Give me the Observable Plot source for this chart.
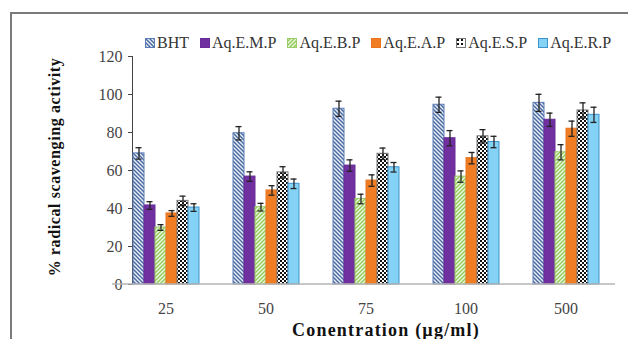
<!DOCTYPE html>
<html>
<head>
<meta charset="utf-8">
<script src="https://cdn.jsdelivr.net/npm/d3@7"></script>
<script src="https://cdn.jsdelivr.net/npm/@observablehq/plot@0.6"></script>
<style>
  html, body { margin: 0; padding: 0; background: #fff; }
  #wrap { position: relative; width: 628px; height: 339px; overflow: hidden; font-family: "Liberation Serif", "Times New Roman", serif; }
  #frame { position: absolute; left: 10px; top: 12px; width: 640px; height: 400px; border-top: 2px solid #7a7a7a; border-left: 2px solid #7a7a7a; z-index: 5; pointer-events: none; }
  #legend { position: absolute; left: 145px; top: 34px; height: 18px; display: flex; align-items: center; font-size: 16px; color: #333; white-space: nowrap; }
  #legend .item { display: flex; align-items: center; margin-right: 11px; }
  #legend svg { margin-right: 2px; }
  #chart { position: absolute; left: 0; top: 52px; }
  #xtitle { position: absolute; top: 320px; left: 0; width: 772px; text-align: center; font-weight: bold; font-size: 18px; letter-spacing: 1.2px; color: #111; }
  #ytitle { position: absolute; left: 55px; top: 167px; transform: translate(-50%, -50%) rotate(-90deg); white-space: nowrap; font-weight: bold; font-size: 16px; letter-spacing: 0.6px; color: #111; }
  #chart svg g[aria-label^="y-axis"] text, #chart svg g[aria-label^="fx-axis"] text { fill: #444; }
</style>
</head>
<body>
<div id="wrap">
  <div id="frame"></div>
  <div id="legend"></div>
  <div id="chart"></div>
  <div id="ytitle">% radical scavenging activity</div>
  <div id="xtitle">Conentration (µg/ml)</div>
</div>
<script>
// ---- data ----
const concentrations = ["25", "50", "75", "100", "500"];
const seriesNames = ["BHT", "Aq.E.M.P", "Aq.E.B.P", "Aq.E.A.P", "Aq.E.S.P", "Aq.E.R.P"];
const bhtValues = [69, 79.6, 92.5, 94.6, 95.6];
const empValues = [41.6, 56.8, 62.6, 77, 86.7];
const ebpValues = [30, 40.7, 45, 56.8, 69.6];
const eapValues = [37.4, 49.5, 54.7, 66.5, 82];
const espValues = [44, 59, 68.8, 78, 91.6];
const erpValues = [40.5, 53, 61.7, 75, 89.3];
const bhtErrors = [3, 3.5, 4, 4, 4.5];
const empErrors = [2, 2.5, 3, 4, 3.5];
const ebpErrors = [1.5, 2, 2.5, 3, 4];
const eapErrors = [1.5, 2.5, 3, 3, 4];
const espErrors = [2.5, 3, 3, 3.5, 4];
const erpErrors = [2, 2.5, 2.5, 3, 4];
const yTicks = [0, 20, 40, 60, 80, 100, 120];

const valueLists = [bhtValues, empValues, ebpValues, eapValues, espValues, erpValues];
const errorLists = [bhtErrors, empErrors, ebpErrors, eapErrors, espErrors, erpErrors];

// styles per series (fill pattern / colour and outline)
const fills = ["url(#p-bht)", "#7030a0", "url(#p-ebp)", "#f07d23", "url(#p-esp)", "#84d3f6"];
const strokes = ["#5a7cb6", "#6a2c98", "#9ccc6a", "#e87420", "#777777", "#3d93cc"];

const rows = [];
seriesNames.forEach((s, i) => {
  concentrations.forEach((c, j) => {
    rows.push({series: s, conc: c, value: valueLists[i][j], err: errorLists[i][j]});
  });
});

const marks = [];
seriesNames.forEach((s, i) => {
  marks.push(Plot.barY(rows.filter(d => d.series === s), {
    fx: "conc", x: "series", y: "value",
    fill: fills[i], stroke: strokes[i], strokeWidth: 1
  }));
});
marks.push(Plot.ruleX(rows, {fx: "conc", x: "series", y1: d => d.value - d.err, y2: d => d.value + d.err, stroke: "#222", strokeWidth: 1.3}));
marks.push(Plot.tickY(rows, {fx: "conc", x: "series", y: d => d.value - d.err, stroke: "#222", strokeWidth: 1.3, insetLeft: 2.5, insetRight: 2.5}));
marks.push(Plot.tickY(rows, {fx: "conc", x: "series", y: d => d.value + d.err, stroke: "#222", strokeWidth: 1.3, insetLeft: 2.5, insetRight: 2.5}));

const chart = Plot.plot({
  width: 628,
  height: 268,
  marginTop: 4,
  marginBottom: 36,
  marginLeft: 112,
  marginRight: 10,
  style: {fontFamily: "Liberation Serif, Times New Roman, serif", fontSize: "16px", color: "#444", background: "transparent", overflow: "visible"},
  fx: {domain: concentrations, paddingInner: 0.33, paddingOuter: 0.195, tickSize: 0, tickPadding: 18, label: null},
  x: {domain: seriesNames, padding: 0, axis: null},
  y: {domain: [0, 120], ticks: yTicks, tickSize: 4, tickPadding: 6, line: true, label: null},
  marks
});

const svg = chart.tagName.toLowerCase() === "svg" ? chart : chart.querySelector("svg");
const defs = d3.select(svg).insert("defs", ":first-child");
// BHT: blue backslash stripes
const p1 = defs.append("pattern").attr("id", "p-bht").attr("patternUnits", "userSpaceOnUse").attr("width", 4).attr("height", 4);
p1.append("rect").attr("width", 4).attr("height", 4).attr("fill", "#e9eef7");
p1.append("path").attr("d", "M-1,-1L5,5M3,-1L5,1M-1,3L1,5").attr("stroke", "#48699f").attr("stroke-width", 1.4);
// EBP: green slash stripes
const p2 = defs.append("pattern").attr("id", "p-ebp").attr("patternUnits", "userSpaceOnUse").attr("width", 4).attr("height", 4);
p2.append("rect").attr("width", 4).attr("height", 4).attr("fill", "#eef7e2");
p2.append("path").attr("d", "M-1,5L5,-1M-1,1L1,-1M3,5L5,3").attr("stroke", "#8fcb55").attr("stroke-width", 1.4);
// ESP: black and white check
const p3 = defs.append("pattern").attr("id", "p-esp").attr("patternUnits", "userSpaceOnUse").attr("width", 4).attr("height", 4);
p3.append("rect").attr("width", 4).attr("height", 4).attr("fill", "#fff");
p3.append("rect").attr("width", 2).attr("height", 2).attr("fill", "#111");
p3.append("rect").attr("x", 2).attr("y", 2).attr("width", 2).attr("height", 2).attr("fill", "#111");

// continuous baseline along y = 0 using Plot's y scale
const yScale = chart.scale("y");
const y0 = yScale.apply(0);
d3.select(svg).append("line").attr("x1", 112).attr("x2", 615).attr("y1", y0).attr("y2", y0)
  .attr("stroke", "#b5b5b5").attr("stroke-width", 1.5);

document.getElementById("chart").appendChild(chart);

// legend (HTML) with same fills
const legend = d3.select("#legend");
seriesNames.forEach((s, i) => {
  const item = legend.append("div").attr("class", "item");
  const sw = item.append("svg").attr("width", 10).attr("height", 10);
  const ld = sw.append("defs");
  let fill = fills[i];
  if (fill.startsWith("url")) {
    const id = "lg" + i;
    const pat = ld.append("pattern").attr("id", id).attr("patternUnits", "userSpaceOnUse").attr("width", 4).attr("height", 4);
    if (i === 0) { pat.append("rect").attr("width", 4).attr("height", 4).attr("fill", "#e9eef7"); pat.append("path").attr("d", "M-1,-1L5,5M3,-1L5,1M-1,3L1,5").attr("stroke", "#48699f").attr("stroke-width", 1.4); }
    if (i === 2) { pat.append("rect").attr("width", 4).attr("height", 4).attr("fill", "#eef7e2"); pat.append("path").attr("d", "M-1,5L5,-1M-1,1L1,-1M3,5L5,3").attr("stroke", "#8fcb55").attr("stroke-width", 1.4); }
    if (i === 4) { pat.append("rect").attr("width", 4).attr("height", 4).attr("fill", "#fff"); pat.append("rect").attr("x", 1).attr("y", 1).attr("width", 2).attr("height", 2).attr("fill", "#111"); }
    fill = "url(#" + id + ")";
  }
  sw.append("rect").attr("x", 0.5).attr("y", 0.5).attr("width", 9).attr("height", 9).attr("fill", fill).attr("stroke", strokes[i]);
  item.append("span").text(s);
});
</script>
</body>
</html>
